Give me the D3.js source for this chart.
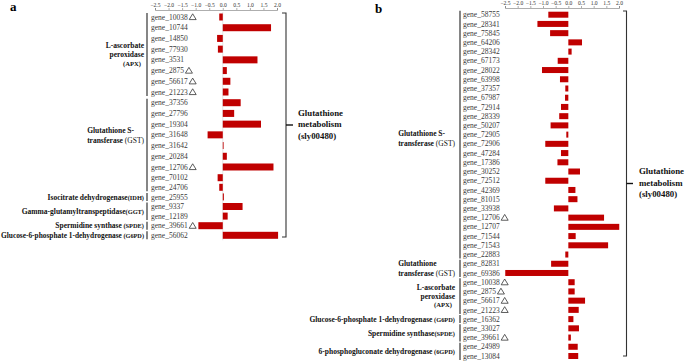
<!DOCTYPE html>
<html>
<head>
<meta charset="utf-8">
<script src="https://cdn.jsdelivr.net/npm/d3@7"></script>
<style>
  html, body { margin: 0; padding: 0; background: #fff; }
  svg { display: block; font-family: "Liberation Serif", "Times New Roman", serif; }
</style>
</head>
<body>
<div id="graph-container"></div>
<script>
// DATA
const ticks = [-2.5, -2.0, -1.5, -1.0, -0.5, 0.0, 0.5, 1.0, 1.5, 2.0]
const pathwayLines = ['Glutathione', 'metabolism', '(sly00480)']

const genesA = ['gene_10038', 'gene_10744', 'gene_14850', 'gene_77930', 'gene_3531', 'gene_2875',
    'gene_56617', 'gene_21223', 'gene_37356', 'gene_27796', 'gene_19304', 'gene_31648', 'gene_31642',
    'gene_20284', 'gene_12706', 'gene_70102', 'gene_24706', 'gene_25955', 'gene_9337', 'gene_12189',
    'gene_39661', 'gene_56062']
const valuesA = [-0.13, 1.78, -0.21, -0.18, 1.28, 0.15, 0.28, 0.21, 0.66, 0.42, 1.41, -0.56, 0.03,
    0.15, 1.87, -0.19, -0.13, 0.04, 0.73, 0.18, -0.90, 2.04]
const markedA = ['gene_10038', 'gene_2875', 'gene_56617', 'gene_21223', 'gene_12706', 'gene_39661']
const groupLabelsA = [
    ['L-ascorbate', 'peroxidase', '(APX)'],
    ['Glutathione S-', 'transferase (GST)'],
    ['Isocitrate dehydrogenase(IDH)'],
    ['Gamma-glutamyltranspeptidase(GGT)'],
    ['Spermidine synthase (SPDE)'],
    ['Glucose-6-phosphate 1-dehydrogenase (G6PD)']
]
const groupSizesA = [8, 9, 1, 2, 1, 1]

const genesB = ['gene_58755', 'gene_28341', 'gene_75845', 'gene_64206', 'gene_28342', 'gene_67173',
    'gene_28022', 'gene_63998', 'gene_37357', 'gene_67987', 'gene_72914', 'gene_28339', 'gene_50207',
    'gene_72905', 'gene_72906', 'gene_47284', 'gene_17386', 'gene_30252', 'gene_72512', 'gene_42369',
    'gene_81015', 'gene_33938', 'gene_12706', 'gene_12707', 'gene_71544', 'gene_71543', 'gene_22883',
    'gene_82831', 'gene_69386', 'gene_10038', 'gene_2875', 'gene_56617', 'gene_21223', 'gene_16362',
    'gene_33027', 'gene_39661', 'gene_24989', 'gene_13084']
const valuesB = [-0.79, -1.22, -0.72, 0.54, 0.13, -0.42, -1.04, -0.33, -0.12, -0.13, -0.29, -0.36,
    -0.70, -0.08, -0.91, -0.29, -0.43, 0.46, -0.91, 0.28, 0.36, -0.57, 1.41, 2.01, 0.29, 1.57, -0.12,
    -0.68, -2.49, 0.25, 0.25, 0.66, 0.41, 0.20, 0.42, 0.10, 0.37, 0.39]
const markedB = ['gene_12706', 'gene_10038', 'gene_2875', 'gene_56617', 'gene_21223', 'gene_39661']
const groupLabelsB = [
    ['Glutathione S-', 'transferase (GST)'],
    ['Glutathione', 'transferase (GST)'],
    ['L-ascorbate', 'peroxidase', '(APX)'],
    ['Glucose-6-phosphate 1-dehydrogenase (G6PD)'],
    ['Spermidine synthase(SPDE)'],
    ['6-phosphogluconate dehydrogenase (6GPD)']
]
const groupSizesB = [27, 2, 4, 1, 2, 2]

// SETTINGS
const settings = {
    width: 685,
    height: 361,
    barColor: '#c00000',
    panels: [
        {
            letter: 'a', letterX: 10, letterY: 11,
            genes: genesA, values: valuesA, marked: markedA, groupLabels: groupLabelsA, groupSizes: groupSizesA,
            x: d3.scaleLinear().domain([-2.5, 2.0]).range([155, 277]),
            y: d3.scaleLinear().domain([0, 15, 21]).range([17, 177.7, 235.3]),
            axisY: 10, geneX: 151, bracketX: 147, labelRight: 144, barHeight: 7,
            zeroLine: true,
            groupShift: [0, -10, 0, 0, 0, 0],
            big: { x: 286, y0: 13, y1: 237, hook: 4, tick: 7, textX: 298 }
        },
        {
            letter: 'b', letterX: 375, letterY: 13,
            genes: genesB, values: valuesB, marked: markedB, groupLabels: groupLabelsB, groupSizes: groupSizesB,
            x: d3.scaleLinear().domain([-2.5, 2.0]).range([505, 619]),
            y: d3.scaleLinear().domain([0, 37]).range([14.7, 356]),
            axisY: 8, geneX: 463, bracketX: 460, labelRight: 455, barHeight: 6,
            zeroLine: false,
            groupShift: [4, 0, 0, 0, 0, 0],
            big: { x: 626.5, y0: 11, y1: 356, hook: 3.5, tick: 6.5, textX: 639 }
        }
    ]
}

const svg = d3.select('#graph-container').append('svg')
    .attr('width', settings.width)
    .attr('height', settings.height)

settings.panels.forEach(p => drawPanel(svg, p))

function drawPanel(svg, p) {
    const g = svg.append('g')

    // panel letter
    g.append('text')
        .attr('x', p.letterX).attr('y', p.letterY)
        .attr('font-size', 13).attr('font-weight', 'bold')
        .text(p.letter)

    // axis on top
    const axis = d3.axisTop(p.x).tickValues(ticks).tickFormat(d3.format('.1f')).tickSize(2).tickPadding(1)
    const axisG = g.append('g')
        .attr('transform', `translate(0, ${p.axisY})`)
        .call(axis)
    axisG.selectAll('text').attr('font-size', 5.6).attr('fill', '#333')
        .style('font-family', '"Liberation Serif", serif')
    axisG.selectAll('line').attr('stroke', '#777').attr('stroke-width', 0.6)
    axisG.select('.domain').attr('stroke', '#777').attr('stroke-width', 0.6)

    const yTop = p.y(0) - 5
    const yBottom = p.y(p.genes.length - 1) + 5

    if (p.zeroLine) {
        g.append('line')
            .attr('x1', p.x(0)).attr('x2', p.x(0))
            .attr('y1', yTop).attr('y2', yBottom)
            .attr('stroke', '#e6e6e6').attr('stroke-width', 1)
    }

    // bars
    g.selectAll('.bar')
        .data(p.values)
        .enter().append('rect')
        .attr('class', 'bar')
        .attr('x', d => p.x(Math.min(0, d)))
        .attr('width', d => Math.abs(p.x(d) - p.x(0)))
        .attr('y', (d, i) => p.y(i) - p.barHeight / 2)
        .attr('height', p.barHeight)
        .attr('fill', settings.barColor)

    // gene labels
    const labels = g.selectAll('.gene')
        .data(p.genes)
        .enter().append('text')
        .attr('class', 'gene')
        .attr('x', p.geneX)
        .attr('y', (d, i) => p.y(i))
        .attr('dy', '0.35em')
        .attr('font-size', 7.5)
        .attr('fill', '#3a3a3a')
        .text(d => d)

    // open triangles after marked genes
    labels.each(function(d, i) {
        if (!p.marked.includes(d)) return
        const w = this.getComputedTextLength()
        const cx = p.geneX + w + 5
        const cy = p.y(i)
        g.append('path')
            .attr('d', `M${cx - 3.5},${cy + 2.6} L${cx},${cy - 3.2} L${cx + 3.5},${cy + 2.6} Z`)
            .attr('fill', 'none')
            .attr('stroke', '#333')
            .attr('stroke-width', 0.8)
    })

    // group brackets and labels
    let start = 0
    p.groupSizes.forEach((size, gi) => {
        const end = start + size - 1
        const y0 = p.y(start) - 4
        const y1 = p.y(end) + 4
        g.append('line')
            .attr('x1', p.bracketX).attr('x2', p.bracketX)
            .attr('y1', y0).attr('y2', y1)
            .attr('stroke', '#222').attr('stroke-width', 1.1)

        const lines = p.groupLabels[gi]
        const lineH = lines.length > 2 ? 8.7 : 10
        const mid = (p.y(start) + p.y(end)) / 2 + p.groupShift[gi]
        const leftAligned = lines.length === 2
        const block = g.append('g')
        lines.forEach((line, li) => {
            const t = block.append('text')
                .attr('y', mid + (li - (lines.length - 1) / 2) * lineH)
                .attr('dy', '0.35em')
                .attr('font-size', 7.5)
                .attr('font-weight', 'bold')
                .attr('fill', '#111')
            const m = line.match(/^(.*?)(\s?\([^)]*\))$/)
            if (m && line[0] !== '(') {
                t.append('tspan').text(m[1])
                t.append('tspan')
                    .attr('font-weight', m[2].includes('GST') ? 'normal' : 'bold')
                    .attr('font-size', m[2].includes('GST') ? 7.5 : 6.4)
                    .text(m[2])
            } else {
                t.text(line).attr('font-size', line[0] === '(' ? 6.6 : 7.5)
            }
            if (leftAligned) {
                t.attr('text-anchor', 'start')
            } else {
                t.attr('text-anchor', 'end')
                 .attr('x', p.labelRight - (line[0] === '(' && lines.length > 1 ? 3 : 0))
                // keep long labels inside the picture
                const w = t.node().getComputedTextLength()
                if (w > p.labelRight - 1) {
                    t.attr('textLength', p.labelRight - 1).attr('lengthAdjust', 'spacingAndGlyphs')
                }
            }
        })
        if (leftAligned) {
            let maxW = 0
            block.selectAll('text').each(function() { maxW = Math.max(maxW, this.getComputedTextLength()) })
            block.selectAll('text').attr('x', p.labelRight - maxW)
        }
        start = end + 1
    })

    // big bracket for the pathway
    const b = p.big
    const tickY = (b.y0 + b.y1) / 2
    g.append('path')
        .attr('d', `M${b.x - b.hook},${b.y0} L${b.x},${b.y0} L${b.x},${b.y1} L${b.x - b.hook},${b.y1}`)
        .attr('fill', 'none').attr('stroke', '#333').attr('stroke-width', 1.1)
    g.append('line')
        .attr('x1', b.x).attr('x2', b.x + b.tick)
        .attr('y1', tickY).attr('y2', tickY)
        .attr('stroke', '#111').attr('stroke-width', 1.4)

    pathwayLines.forEach((line, li) => {
        g.append('text')
            .attr('x', b.textX)
            .attr('y', tickY - 1 + (li - 1) * 11.5)
            .attr('dy', '0.35em')
            .attr('font-size', 8.8)
            .attr('font-weight', 'bold')
            .attr('fill', '#111')
            .text(line)
    })
}
</script>
</body>
</html>
